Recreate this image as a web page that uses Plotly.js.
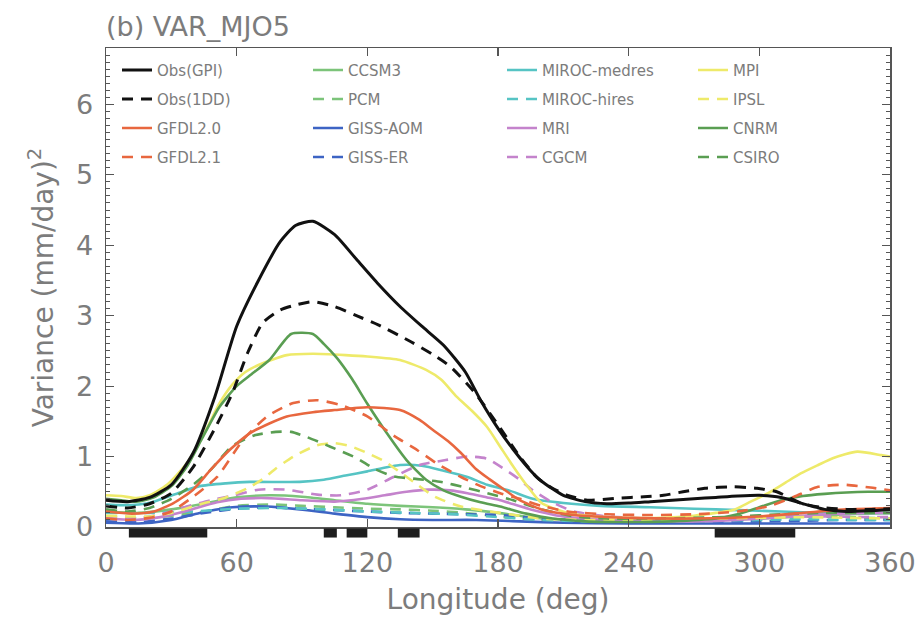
<!DOCTYPE html>
<html><head><meta charset="utf-8">
<script src="https://cdn.plot.ly/plotly-3.0.1.min.js"></script>
<style>html,body{margin:0;padding:0;background:#fff}</style>
</head><body><div id="chart" style="width:924px;height:626px"></div>
<script>
// ---- data (longitude in deg, variance in (mm/day)^2) ----
const gpiLon = [0,10,20,30,40,50,60,70,80,87,95,105,115,125,135,145,155,165,172,180,187,195,200,210,220,230,240,250,260,270,280,290,300,310,320,330,340,350,360];
const gpiVal = [0.38,0.36,0.42,0.6,1.05,1.85,2.85,3.5,4.05,4.28,4.34,4.15,3.8,3.45,3.13,2.85,2.58,2.2,1.8,1.4,1.1,0.8,0.65,0.45,0.36,0.33,0.34,0.36,0.38,0.4,0.42,0.44,0.45,0.42,0.33,0.25,0.22,0.23,0.25];

const dd1Lon = [0,10,20,30,40,50,58,65,72,80,88,95,105,115,125,140,150,158,169,180,190,198,205,212,221,235,247,256,265,275,288,299,308,319,328,340,350,360];
const dd1Val = [0.3,0.27,0.33,0.48,0.85,1.4,1.9,2.47,2.9,3.08,3.16,3.2,3.13,3.0,2.87,2.63,2.45,2.28,1.92,1.45,1.0,0.7,0.55,0.45,0.38,0.41,0.43,0.45,0.5,0.55,0.57,0.55,0.5,0.34,0.28,0.25,0.25,0.26];

const gf20Lon = [0,12,22,31,40,48,57,66,75,83,95,105,120,135,144,150,157,163,170,176,182,190,200,215,240,270,300,320,340,360];
const gf20Val = [0.22,0.19,0.22,0.34,0.53,0.81,1.1,1.33,1.47,1.57,1.63,1.66,1.7,1.66,1.52,1.38,1.22,1.05,0.82,0.68,0.55,0.38,0.25,0.17,0.13,0.12,0.15,0.2,0.25,0.27];

const gf21Lon = [0,10,20,30,40,51,63,74,86,97,108,120,132,143,152,163,172,181,190,200,212,230,250,270,290,305,316,327,339,351,360];
const gf21Val = [0.12,0.1,0.13,0.22,0.43,0.71,1.24,1.57,1.76,1.8,1.73,1.57,1.3,1.09,0.9,0.71,0.58,0.48,0.4,0.3,0.22,0.18,0.17,0.18,0.22,0.3,0.43,0.57,0.6,0.56,0.52];

const ccsmLon = [0,15,30,45,60,75,90,105,120,135,150,165,180,200,220,240,260,280,300,320,340,360];
const ccsmVal = [0.22,0.2,0.25,0.33,0.42,0.45,0.43,0.38,0.33,0.3,0.28,0.25,0.2,0.12,0.1,0.1,0.1,0.1,0.12,0.15,0.18,0.2];

const pcmLon = [0,15,30,45,60,75,90,105,120,135,150,165,180,200,220,240,260,280,300,320,340,360];
const pcmVal = [0.15,0.12,0.16,0.22,0.3,0.32,0.3,0.28,0.26,0.25,0.23,0.2,0.15,0.1,0.1,0.12,0.12,0.13,0.15,0.15,0.14,0.12];

const aomLon = [0,15,30,43,58,74,89,105,120,135,150,170,190,210,240,270,300,330,360];
const aomVal = [0.06,0.05,0.1,0.2,0.28,0.29,0.25,0.19,0.14,0.11,0.1,0.1,0.08,0.06,0.05,0.05,0.05,0.05,0.05];

const gerLon = [0,15,30,45,60,75,90,105,120,135,150,165,181,200,220,240,260,280,300,320,340,360];
const gerVal = [0.08,0.07,0.12,0.2,0.26,0.28,0.26,0.24,0.22,0.2,0.19,0.18,0.17,0.12,0.09,0.08,0.08,0.08,0.08,0.09,0.1,0.1];

const mmedLon = [0,7,15,22,33,43,55,66,89,100,110,120,135,145,155,166,175,185,196,210,227,250,270,290,310,330,345,360];
const mmedVal = [0.32,0.31,0.32,0.36,0.48,0.58,0.62,0.64,0.64,0.67,0.73,0.79,0.88,0.87,0.8,0.71,0.6,0.52,0.4,0.34,0.3,0.28,0.26,0.24,0.22,0.2,0.2,0.2];

const mhiLon = [0,20,40,60,80,100,120,140,160,180,200,220,240,260,280,300,320,340,360];
const mhiVal = [0.2,0.2,0.22,0.26,0.27,0.25,0.22,0.2,0.18,0.14,0.1,0.08,0.08,0.08,0.09,0.1,0.11,0.1,0.1];

const mriLon = [0,13,25,36,51,62,74,90,105,118,128,138,148,158,166,175,181,195,210,230,250,270,290,310,330,350,360];
const mriVal = [0.12,0.1,0.14,0.22,0.35,0.4,0.41,0.38,0.36,0.4,0.45,0.5,0.53,0.52,0.48,0.42,0.38,0.25,0.15,0.1,0.08,0.08,0.1,0.14,0.18,0.2,0.2];

const cgcmLon = [0,12,25,36,48,59,70,83,97,108,120,132,144,156,166,175,184,190,196,205,215,230,250,270,290,310,330,350,360];
const cgcmVal = [0.14,0.12,0.18,0.28,0.38,0.45,0.53,0.53,0.46,0.45,0.53,0.71,0.88,0.95,1.0,0.97,0.8,0.67,0.52,0.35,0.22,0.15,0.12,0.12,0.13,0.15,0.15,0.14,0.14];

const mpiLon = [0,7,14,20,28,37,46,52,58,64,70,83,95,110,120,135,147,154,161,168,175,181,187,193,200,212,225,240,255,270,280,288,296,304,312,319,327,334,345,356,360];
const mpiVal = [0.45,0.44,0.41,0.45,0.6,0.9,1.38,1.75,2.02,2.2,2.3,2.44,2.46,2.44,2.42,2.37,2.23,2.09,1.85,1.65,1.42,1.14,0.86,0.6,0.34,0.2,0.15,0.13,0.13,0.16,0.2,0.24,0.36,0.48,0.63,0.76,0.88,0.98,1.07,1.02,1.0];

const ipslLon = [0,10,20,30,43,55,65,72,78,86,97,105,112,120,128,135,143,151,163,181,200,220,240,260,280,300,320,340,360];
const ipslVal = [0.16,0.15,0.15,0.2,0.32,0.42,0.55,0.68,0.83,1.0,1.16,1.19,1.15,1.05,0.93,0.78,0.6,0.43,0.29,0.2,0.12,0.1,0.1,0.1,0.12,0.13,0.14,0.13,0.12];

const cnrmLon = [0,7,14,22,30,37,44,52,60,66,75,85,95,100,106,113,120,129,138,147,155,163,172,181,193,205,220,240,260,280,290,300,310,320,330,340,350,360];
const cnrmVal = [0.4,0.38,0.36,0.42,0.58,0.85,1.25,1.7,2.0,2.15,2.37,2.74,2.74,2.6,2.4,2.1,1.75,1.33,0.95,0.67,0.52,0.43,0.35,0.29,0.19,0.12,0.08,0.07,0.08,0.12,0.18,0.28,0.38,0.44,0.47,0.49,0.5,0.5];

const csiroLon = [0,10,20,30,40,48,58,68,78,85,92,103,115,123,132,143,154,165,175,187,200,215,230,250,270,290,310,330,350,360];
const csiroVal = [0.25,0.22,0.27,0.4,0.6,0.81,1.15,1.3,1.35,1.35,1.28,1.14,0.98,0.83,0.72,0.68,0.64,0.56,0.48,0.38,0.25,0.15,0.12,0.12,0.13,0.15,0.18,0.2,0.2,0.2];

// significance bars under the axis (longitude ranges)
const sigStart = [10.5, 100, 110.5, 134, 279.5];
const sigEnd   = [46.5, 106, 120, 144, 316.5];

// ---- series definitions ----
const series = [
  {name:'CCSM3',        x:ccsmLon, y:ccsmVal, color:'#7cc47a', dash:'solid', leg:'legend2', rank:1},
  {name:'PCM',          x:pcmLon,  y:pcmVal,  color:'#7cc47a', dash:'dash',  leg:'legend2', rank:2},
  {name:'GISS-AOM',     x:aomLon,  y:aomVal,  color:'#3d64c4', dash:'solid', leg:'legend2', rank:3},
  {name:'GISS-ER',      x:gerLon,  y:gerVal,  color:'#3d64c4', dash:'dash',  leg:'legend2', rank:4},
  {name:'MIROC-medres', x:mmedLon, y:mmedVal, color:'#56c4c4', dash:'solid', leg:'legend3', rank:1},
  {name:'MIROC-hires',  x:mhiLon,  y:mhiVal,  color:'#56c4c4', dash:'dash',  leg:'legend3', rank:2},
  {name:'MRI',          x:mriLon,  y:mriVal,  color:'#c483cc', dash:'solid', leg:'legend3', rank:3},
  {name:'CGCM',         x:cgcmLon, y:cgcmVal, color:'#c483cc', dash:'dash',  leg:'legend3', rank:4},
  {name:'MPI',          x:mpiLon,  y:mpiVal,  color:'#eeea6a', dash:'solid', leg:'legend4', rank:1},
  {name:'IPSL',         x:ipslLon, y:ipslVal, color:'#eeea6a', dash:'dash',  leg:'legend4', rank:2},
  {name:'CNRM',         x:cnrmLon, y:cnrmVal, color:'#5a9e52', dash:'solid', leg:'legend4', rank:3},
  {name:'CSIRO',        x:csiroLon,y:csiroVal,color:'#5a9e52', dash:'dash',  leg:'legend4', rank:4},
  {name:'GFDL2.0',      x:gf20Lon, y:gf20Val, color:'#e8673f', dash:'solid', leg:'legend',  rank:3},
  {name:'GFDL2.1',      x:gf21Lon, y:gf21Val, color:'#e8673f', dash:'dash',  leg:'legend',  rank:4},
  {name:'Obs(1DD)',     x:dd1Lon,  y:dd1Val,  color:'#111111', dash:'dash',  leg:'legend',  rank:2},
  {name:'Obs(GPI)',     x:gpiLon,  y:gpiVal,  color:'#111111', dash:'solid', leg:'legend',  rank:1}
];

const traces = series.map(s => ({
  type:'scatter', mode:'lines', name:s.name, x:s.x, y:s.y,
  legend:s.leg, legendrank:s.rank, legendgroup:s.name,
  line:{color:s.color, width:(s.color==='#111111'?3:2.6), dash:(s.dash==='dash'?'11px,8px':'solid'), shape:'spline', smoothing:0.6}
}));

const textCol = '#7c7c7c';
const legFont = {family:'DejaVu Sans', size:15, color:textCol};
function leg(px){
  return {x:(px-106)/784, y:0.988, xanchor:'left', yanchor:'top', bgcolor:'rgba(0,0,0,0)',
          borderwidth:0, font:legFont, tracegroupgap:6.5, itemwidth:30, orientation:'v', traceorder:'grouped'};
}

const shapes = sigStart.map((s,i) => ({
  type:'rect', xref:'x', yref:'paper', x0:s, x1:sigEnd[i], y0:-0.022, y1:-0.003,
  fillcolor:'#1e1e1e', line:{width:0}, layer:'above'
}));

const axisFont = {family:'DejaVu Sans', size:27, color:textCol};
const layout = {
  width:924, height:626,
  margin:{l:106, r:34, t:48, b:99},
  paper_bgcolor:'#fff', plot_bgcolor:'#fff',
  showlegend:true,
  title:{text:'(b) VAR_MJO5', x:106/924, xanchor:'left', xref:'container', y:1-27/626, yref:'container', yanchor:'middle',
         font:{family:'DejaVu Sans', size:27, color:textCol}},
  xaxis:{range:[0,360], tickvals:[0,60,120,180,240,300,360], ticks:'inside', ticklen:8, tickwidth:1.2,
         tickcolor:'#555', showline:true, linecolor:'#555', linewidth:1.5, mirror:'allticks',
         showgrid:false, zeroline:false, tickfont:axisFont, ticklabelstandoff:11,
         title:{text:'Longitude (deg)', font:{family:'DejaVu Sans', size:28, color:textCol}, standoff:12}},
  yaxis:{range:[0,6.8], tickvals:[0,1,2,3,4,5,6], ticks:'inside', ticklen:8, tickwidth:1.2,
         tickcolor:'#555', showline:true, linecolor:'#555', linewidth:1.5, mirror:'allticks',
         showgrid:false, zeroline:false, tickfont:axisFont, ticklabelstandoff:6,
         minor:{dtick:0.1, ticks:'inside', ticklen:4, tickcolor:'#555', tickwidth:1, showgrid:false},
         title:{text:'Variance (mm/day)<sup>2</sup>', font:{family:'DejaVu Sans', size:28, color:textCol}, standoff:14}},
  legend:leg(117), legend2:leg(308), legend3:leg(502), legend4:leg(693),
  shapes:shapes
};

Plotly.newPlot('chart', traces, layout, {displayModeBar:false, staticPlot:true});
</script>
</body></html>
